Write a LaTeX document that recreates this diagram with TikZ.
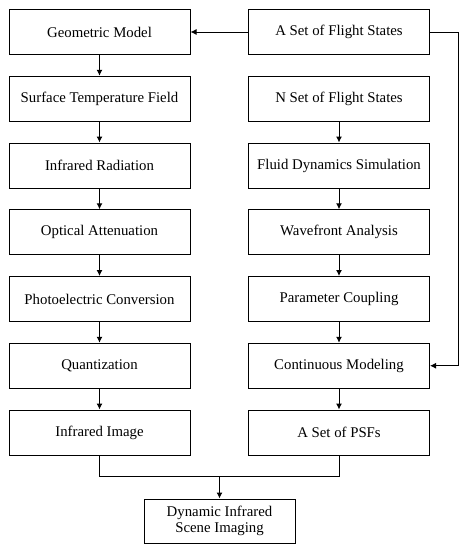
\documentclass[tikz,border=0pt]{standalone}
\usepackage{fontspec}
\setmainfont{Liberation Serif}
\usetikzlibrary{arrows.meta}
\tikzset{
  stepbox/.style={draw, line width=1pt, minimum width=181pt, minimum height=45pt,
    inner sep=2pt, align=center, font=\fontsize{14.8}{17}\selectfont},
  flow/.style={draw, line width=1pt, -{Latex[length=6pt,width=6pt]}},
  joint/.style={draw, line width=1pt}
}
\begin{document}
\begin{tikzpicture}[x=1pt,y=-1pt]
\useasboundingbox (0,0) rectangle (465,550);
% left column
\foreach \name/\txt [count=\i from 0] in {geo/Geometric Model,temp/Surface Temperature Field,rad/Infrared Radiation,att/Optical Attenuation,conv/Photoelectric Conversion,quant/Quantization,img/Infrared Image}
  \node[stepbox] (\name) at (99.5,32+66.75*\i) {\txt};
% right column
\foreach \name/\txt [count=\i from 0] in {flightA/A Set of Flight States,flightN/N Set of Flight States,fluid/Fluid Dynamics Simulation,wave/Wavefront Analysis,coup/Parameter Coupling,cont/Continuous Modeling,psf/A Set of PSFs}
  \node[stepbox] (\name) at (339,32+66.75*\i) {\txt};
\node[stepbox, minimum width=151pt, minimum height=44pt, inner sep=1pt,
  font=\fontsize{14.8}{16.5}\selectfont] (dyn) at (219.5,521) {Dynamic Infrared\\Scene Imaging};
\coordinate (merge) at (219.5,476);
% chains
\foreach \a/\b in {geo/temp,temp/rad,rad/att,att/conv,conv/quant,quant/img,flightN/fluid,fluid/wave,wave/coup,coup/cont,cont/psf}
  \draw[flow] (\a) -- (\b);
\draw[flow] (flightA) -- (geo);
\draw[flow] (flightA.east) -- ++(28,0) |- (cont.east);
\draw[joint] (img.south) |- (merge);
\draw[joint] (psf.south) |- (merge);
\draw[flow] (merge) -- (dyn);
\end{tikzpicture}
\end{document}
